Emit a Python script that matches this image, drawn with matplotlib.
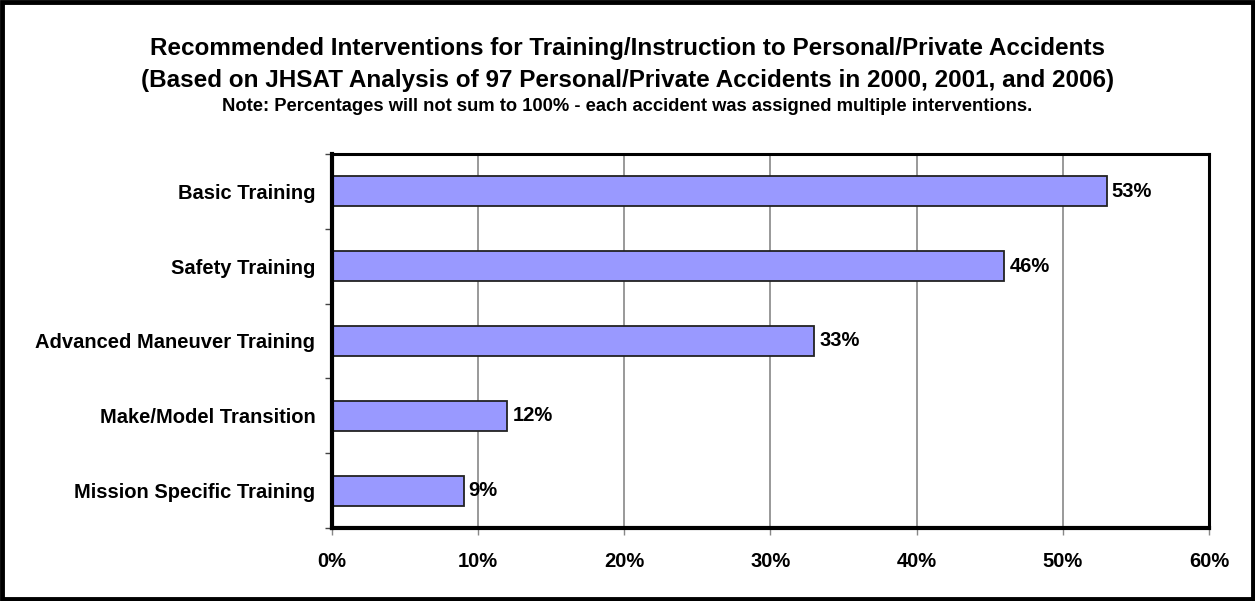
import matplotlib
matplotlib.use("Agg")
import matplotlib.pyplot as plt
from matplotlib.patches import Rectangle
import numpy as np

categories = ["Basic Training", "Safety Training", "Advanced Maneuver Training",
              "Make/Model Transition", "Mission Specific Training"]
values = [53, 46, 33, 12, 9]
x_ticks = [0, 10, 20, 30, 40, 50, 60]
x_tick_labels = ["0%", "10%", "20%", "30%", "40%", "50%", "60%"]

plt.rcParams['font.family'] = ['Liberation Sans', 'DejaVu Sans']
plt.rcParams['font.weight'] = 'bold'

W, H = 1255, 601
fig = plt.figure(figsize=(W / 100, H / 100), dpi=100)
ax = fig.add_axes([332 / W, 1 - 528 / H, (1209 - 332) / W, (528 - 154) / H])

n = len(categories)
ypos = np.arange(n)[::-1]
ax.barh(ypos, values, height=0.4, color="#9999ff", edgecolor="#222222", linewidth=1.3, zorder=3)
for y, v in zip(ypos, values):
    ax.text(v + 0.35, y, f"{v}%", va="center", ha="left", fontsize=14.5, fontweight="bold", zorder=4)

ax.set_xlim(0, 60)
ax.set_ylim(-0.5, n - 0.5)
ax.set_xticks(x_ticks)
ax.set_xticklabels(x_tick_labels, fontsize=14.5, fontweight="bold")
ax.set_yticks(ypos)
ax.set_yticklabels(categories, fontsize=14.5, fontweight="bold")
ax.tick_params(axis="y", which="major", length=0, pad=12)
ax.set_yticks(np.arange(-0.5, n, 1.0), minor=True)
ax.tick_params(axis="y", which="minor", length=5, width=1, color="#444444")
ax.tick_params(axis="x", which="major", length=5, width=1, color="#888888", pad=12)
ax.grid(axis="x", color="#888888", linewidth=1.2, zorder=0)
for s in ax.spines.values():
    s.set_linewidth(2.2)
    s.set_color("black")
    s.set_zorder(5)
ax.spines["left"].set_linewidth(3)
ax.spines["bottom"].set_linewidth(3)

fig.text(0.5, 1 - 49 / H, "Recommended Interventions for Training/Instruction to Personal/Private Accidents",
         ha="center", va="center", fontsize=17.5, fontweight="bold")
fig.text(0.5, 1 - 81 / H, "(Based on JHSAT Analysis of 97 Personal/Private Accidents in 2000, 2001, and 2006)",
         ha="center", va="center", fontsize=17.5, fontweight="bold")
fig.text(0.5, 1 - 106 / H, "Note: Percentages will not sum to 100% - each accident was assigned multiple interventions.",
         ha="center", va="center", fontsize=13.2, fontweight="bold")

fig.patches.append(Rectangle((2 / W, 2 / H), 1 - 4 / W, 1 - 4 / H, transform=fig.transFigure,
                             fill=False, edgecolor="black", linewidth=3.5))

fig.savefig("out.png", dpi=100)
